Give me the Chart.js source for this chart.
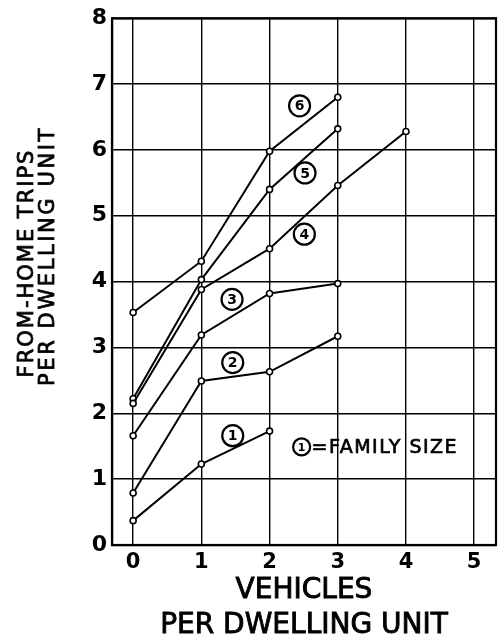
<!DOCTYPE html>
<html>
<head>
<meta charset="utf-8">
<script src="https://cdn.jsdelivr.net/npm/chart.js@4/dist/chart.umd.min.js"></script>
<style>
  html, body { margin: 0; padding: 0; background: #fff; }
  #wrap { width: 503px; height: 640px; }
</style>
</head>
<body>
<div id="wrap"><canvas id="c" width="503" height="640"></canvas></div>
<script>
// Vehicles owned per dwelling unit (x axis)
const vehicles = [0, 1, 2, 3, 4];

// From-home trips per dwelling unit, one series per family size
const family1 = [0.37, 1.23, 1.73];
const family2 = [0.79, 2.49, 2.63, 3.17];
const family3 = [1.66, 3.19, 3.82, 3.97];
const family4 = [2.15, 3.88, 4.50, 5.46, 6.28];
const family5 = [2.22, 4.03, 5.40, 6.32];
const family6 = [3.53, 4.31, 5.98, 6.80];

const familySizes = ['1', '2', '3', '4', '5', '6'];
const familySeries = [family1, family2, family3, family4, family5, family6];

// Where each circled family-size tag sits, in data units
const tagX = [1.46, 1.46, 1.45, 2.51, 2.52, 2.44];
const tagY = [1.66, 2.77, 3.73, 4.72, 5.65, 6.67];

// Key text and its anchor
const keyText = '=FAMILY SIZE';
const keyX = 2.47;
const keyY = 1.49;

const xTitle = ['VEHICLES', 'PER DWELLING UNIT'];
const yTitle = ['FROM-HOME TRIPS', 'PER DWELLING UNIT'];

const FONT = '"DejaVu Sans", sans-serif';
Chart.defaults.font.family = FONT;
Chart.defaults.color = '#000';

const datasets = familySeries.map((vals, k) => ({
  label: familySizes[k],
  data: vals.map((v, i) => ({ x: vehicles[i], y: v })),
  showLine: true,
  borderColor: '#000',
  borderWidth: 2,
  pointRadius: 3,
  pointBorderWidth: 1.6,
  pointBackgroundColor: '#fff',
  pointBorderColor: '#000',
  tension: 0
}));

function circledNumber(ctx, cx, cy, r, text, size) {
  ctx.save();
  ctx.beginPath();
  ctx.arc(cx, cy, r, 0, Math.PI * 2);
  ctx.lineWidth = 2.2;
  ctx.strokeStyle = '#000';
  ctx.stroke();
  ctx.fillStyle = '#000';
  ctx.font = 'bold ' + size + 'px ' + FONT;
  ctx.textAlign = 'center';
  ctx.textBaseline = 'middle';
  ctx.fillText(text, cx, cy + 1);
  ctx.restore();
}

function heavyText(ctx, text, x, y, w) {
  ctx.fillText(text, x, y);
  ctx.lineWidth = w;
  ctx.strokeText(text, x, y);
}

function rotatedLine(ctx, text, x, y, size, spacing) {
  ctx.save();
  ctx.fillStyle = '#000';
  ctx.strokeStyle = '#000';
  ctx.font = size + 'px ' + FONT;
  ctx.textAlign = 'center';
  ctx.textBaseline = 'alphabetic';
  ctx.letterSpacing = spacing;
  ctx.translate(x, y);
  ctx.rotate(-Math.PI / 2);
  heavyText(ctx, text, 0, 0, 0.8);
  ctx.restore();
}

const decorations = {
  id: 'decorations',
  afterDraw(chart) {
    const ctx = chart.ctx;
    const a = chart.chartArea;
    const sx = chart.scales.x, sy = chart.scales.y;

    // outer frame
    ctx.save();
    ctx.strokeStyle = '#000';
    ctx.lineWidth = 2.2;
    ctx.strokeRect(a.left, a.top, a.right - a.left, a.bottom - a.top);
    ctx.restore();

    // circled family-size tags
    for (let i = 0; i < familySizes.length; i++) {
      circledNumber(ctx, sx.getPixelForValue(tagX[i]), sy.getPixelForValue(tagY[i]), 10.5, familySizes[i], 14);
    }

    // key
    const kx = sx.getPixelForValue(keyX), ky = sy.getPixelForValue(keyY);
    circledNumber(ctx, kx, ky, 8.5, '1', 11);
    ctx.save();
    ctx.fillStyle = '#000';
    ctx.strokeStyle = '#000';
    ctx.font = '19px ' + FONT;
    ctx.letterSpacing = '1.5px';
    ctx.textAlign = 'left';
    ctx.textBaseline = 'middle';
    heavyText(ctx, keyText, kx + 10, ky + 1, 0.7);
    ctx.restore();

    // x axis title
    ctx.save();
    ctx.fillStyle = '#000';
    ctx.strokeStyle = '#000';
    ctx.font = '28px ' + FONT;
    ctx.textAlign = 'center';
    ctx.textBaseline = 'alphabetic';
    const xc = (a.left + a.right) / 2;
    heavyText(ctx, xTitle[0], xc, 598, 0.9);
    heavyText(ctx, xTitle[1], xc, 633, 0.9);
    ctx.restore();

    // y axis title, two stacked rotated lines
    rotatedLine(ctx, yTitle[0], 33, 263, 21, '2px');
    rotatedLine(ctx, yTitle[1], 54, 256, 21, '2.6px');
  }
};

new Chart(document.getElementById('c'), {
  type: 'scatter',
  data: { datasets },
  options: {
    responsive: false,
    animation: false,
    layout: { padding: { top: 7, right: 7, left: 0, bottom: 0 } },
    plugins: { legend: { display: false }, tooltip: { enabled: false } },
    scales: {
      x: {
        type: 'linear',
        min: -0.31,
        max: 5.32,
        afterFit(s) { s.height = 95; },
        ticks: {
          stepSize: 1,
          includeBounds: false,
          padding: 5,
          font: { size: 21, weight: 'bold' },
          color: '#000',
          callback: v => String(v)
        },
        grid: { color: '#000', lineWidth: 1.4, drawTicks: false },
        border: { color: '#000', width: 2.2 }
      },
      y: {
        type: 'linear',
        min: 0,
        max: 8,
        afterFit(s) { s.width = 112; },
        ticks: {
          stepSize: 1,
          includeBounds: false,
          padding: 5,
          font: { size: 22, weight: 'bold' },
          color: '#000',
          callback: v => String(v)
        },
        grid: { color: '#000', lineWidth: 1.4, drawTicks: false },
        border: { color: '#000', width: 2.2 }
      }
    }
  },
  plugins: [decorations]
});
</script>
</body>
</html>
